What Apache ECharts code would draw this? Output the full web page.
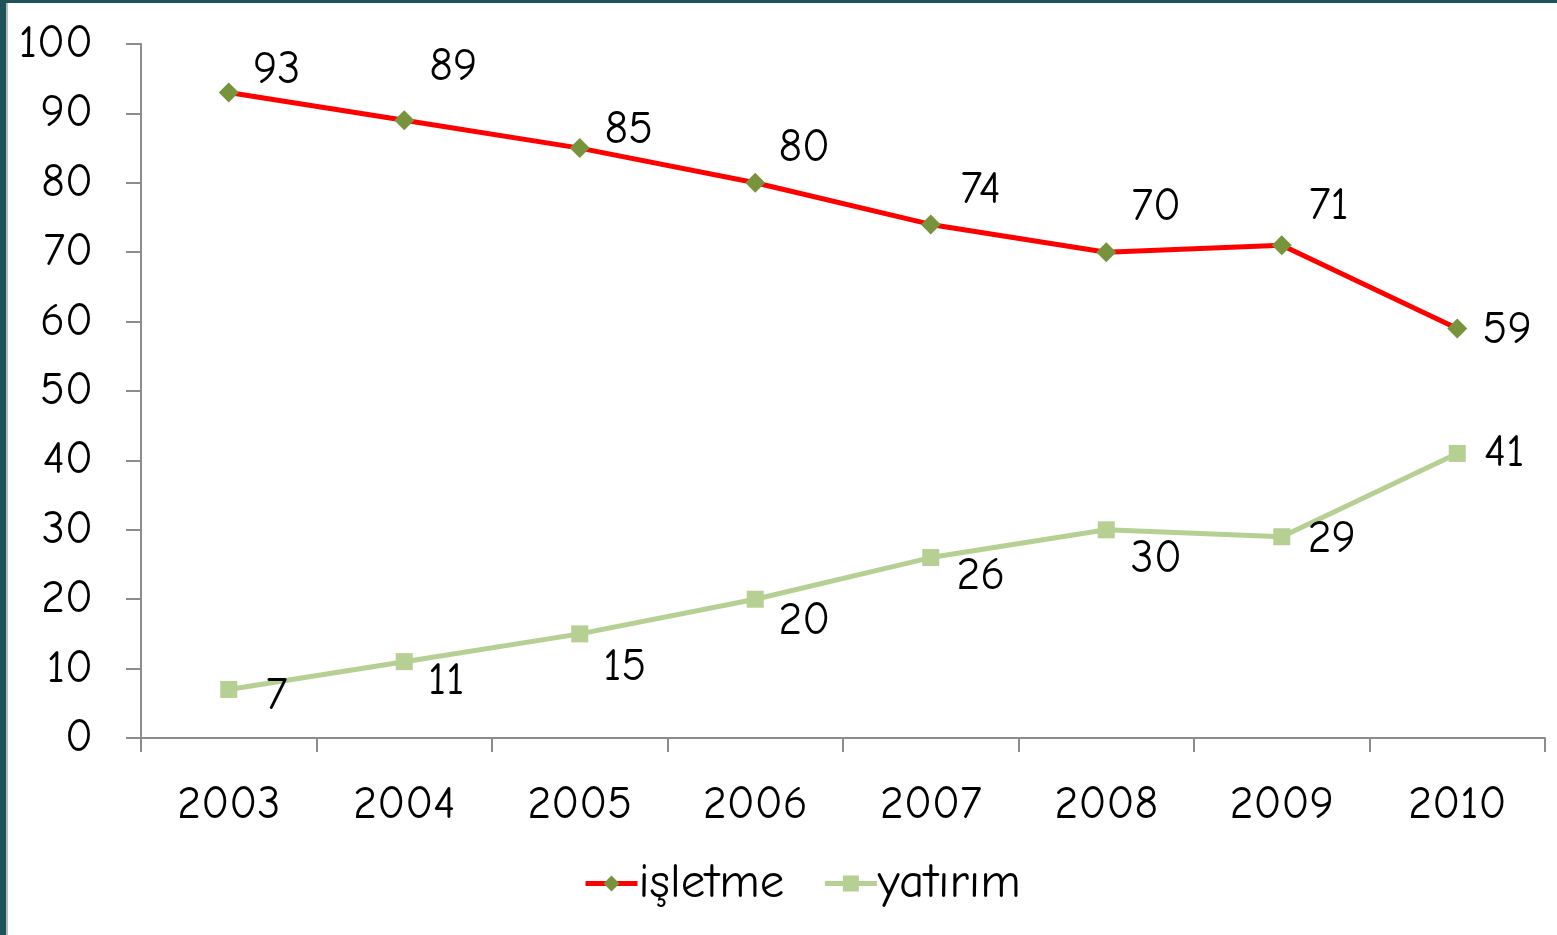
<!DOCTYPE html>
<html>
<head>
<meta charset="utf-8">
<title>isletme / yatirim</title>
<script src="https://cdn.jsdelivr.net/npm/echarts@6/dist/echarts.min.js"></script>
<style>
    html, body { margin: 0; padding: 0; width: 1557px; height: 935px; overflow: hidden; background: #1e5459; }
    #frame { position: absolute; left: 6px; top: 3px; right: 0; bottom: 0; background: #fff; border-left: 2px solid #b8bcbc; }
    #chart { position: absolute; left: -8px; top: -3px; width: 1557px; height: 935px; }
</style>
</head>
<body>
<div id="frame"><div id="chart"></div></div>
<script>
    var years = ['2003', '2004', '2005', '2006', '2007', '2008', '2009', '2010'];
    var isletme = [93, 89, 85, 80, 74, 70, 71, 59];
    var yatirim = [7, 11, 15, 20, 26, 30, 29, 41];

    // label offsets from each point (label style only)
    var isletmeOffsets = [[48, -23], [49, -53], [49, -18], [49, -35], [50, -34], [50, -45], [47, -39], [50, 1]];
    var yatirimOffsets = [[48, 7], [42, 19], [45, 33], [49, 22], [50, 18], [50, 29], [50, 2], [47, 0]];

    var FONT = '"Comic Sans MS", "Comic Neue", "Open Sans", sans-serif';
    var FS = 46;

    function withLabels(values, offsets) {
        return values.map(function (v, i) {
            return { value: v, label: { offset: offsets[i] } };
        });
    }

    var myChart = echarts.init(document.getElementById('chart'));
    var chartOption = {
        animation: false,
        textStyle: { fontFamily: FONT },
        grid: { left: 141, right: 12, top: 44, bottom: 197 },
        legend: {
            bottom: 22,
            left: 578,
            itemWidth: 52,
            itemHeight: 20,
            itemGap: 38,
            lineStyle: { width: 5 },
            textStyle: { fontSize: 49, color: '#000', fontFamily: FONT, padding: [0, 0, 0, -4] },
            data: ['işletme', 'yatırım']
        },
        xAxis: {
            type: 'category',
            boundaryGap: true,
            data: years,
            axisLine: { lineStyle: { color: '#8c8c8c', width: 2 } },
            axisTick: { show: true, length: 14, inside: false, lineStyle: { color: '#8c8c8c', width: 2 } },
            axisLabel: { color: '#000', fontSize: FS, margin: 44, fontFamily: FONT }
        },
        yAxis: {
            type: 'value',
            min: 0,
            max: 100,
            interval: 10,
            splitLine: { show: false },
            axisLine: { show: true, lineStyle: { color: '#8c8c8c', width: 2 } },
            axisTick: { show: true, length: 15, lineStyle: { color: '#8c8c8c', width: 2 } },
            axisLabel: { color: '#000', fontSize: FS, margin: 48, fontFamily: FONT }
        },
        series: [{
                name: 'işletme',
                type: 'line',
                data: withLabels(isletme, isletmeOffsets),
                symbol: 'diamond',
                symbolSize: 20,
                lineStyle: { color: '#ff0000', width: 5 },
                itemStyle: { color: '#77933c' },
                label: {
                    show: true,
                    position: 'inside',
                    align: 'center',
                    verticalAlign: 'middle',
                    color: '#000',
                    fontSize: FS,
                    fontFamily: FONT
                }
            },
            {
                name: 'yatırım',
                type: 'line',
                data: withLabels(yatirim, yatirimOffsets),
                symbol: 'rect',
                symbolSize: 17,
                lineStyle: { color: '#b6cf93', width: 5 },
                itemStyle: { color: '#b6cf93' },
                label: {
                    show: true,
                    position: 'inside',
                    align: 'center',
                    verticalAlign: 'middle',
                    color: '#000',
                    fontSize: FS,
                    fontFamily: FONT
                }
            }
        ]
    };
    myChart.setOption(chartOption);
</script>
</body>
</html>
